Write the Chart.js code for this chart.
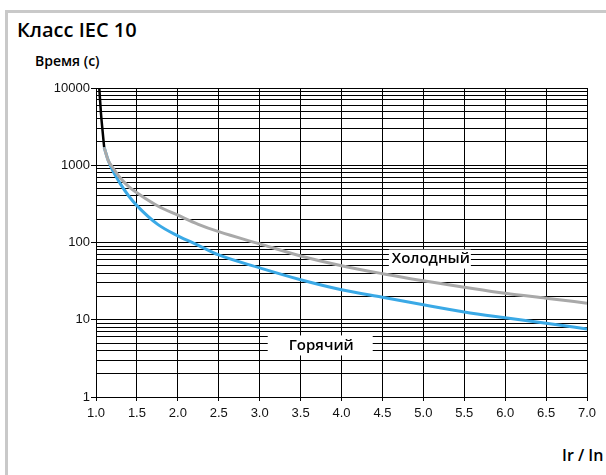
<!DOCTYPE html>
<html>
<head>
<meta charset="utf-8">
<script src="https://cdn.jsdelivr.net/npm/chart.js@4.4.0/dist/chart.umd.min.js"></script>
<style>
  body { margin: 0; background: #fff; }
  #wrap { position: relative; width: 606px; height: 475px; overflow: hidden; }
  #frame { position: absolute; left: 5px; top: 10px; width: 640px; height: 500px;
           border-top: 3px solid #c9c9c9; border-left: 3px solid #c9c9c9; }
  .txt { position: absolute; font-family: 'Open Sans', sans-serif; font-weight: 600; color: #000; white-space: nowrap; }
  #title { left: 17px; top: 16px; font-size: 20px; }
  #ytitle { left: 35px; top: 51px; font-size: 14px; }
  #xtitle { left: 562px; top: 444px; font-size: 16px; }
  canvas { position: absolute; left: 0; top: 0; }
</style>
</head>
<body>
<div id="wrap">
  <div id="frame"></div>
  <div class="txt" id="title">Класс IEC 10</div>
  <div class="txt" id="ytitle">Время (с)</div>
  <div class="txt" id="xtitle">Ir / In</div>
  <canvas id="chart" width="606" height="475"></canvas>
</div>
<script>
// steep start, common to both curves
var xStart = [1.04, 1.06, 1.08, 1.1];
var tStart = [10000, 4800, 2800, 1700];

// cold curve (gray)
var xCold = [1.1, 1.15, 1.2, 1.3, 1.4, 1.5, 1.75, 2.0, 2.25, 2.5, 3.0, 3.5, 4.0, 4.5, 5.0, 5.5, 6.0, 6.5, 7.0];
var tCold = [1700, 1150, 950, 680, 530, 440, 299, 226, 172, 138, 96, 67, 50, 39.5, 32, 26.4, 22, 19, 16.4];

// hot curve (blue)
var xHot = [1.1, 1.15, 1.2, 1.3, 1.4, 1.5, 1.75, 2.0, 2.25, 2.5, 3.0, 3.5, 4.0, 4.5, 5.0, 5.5, 6.0, 6.5, 7.0];
var tHot = [1700, 1150, 870, 570, 400, 300, 173, 122, 92, 69, 47, 33, 24.5, 19.5, 15.6, 12.6, 10.6, 9.0, 7.6];

// axis ticks
var xTicks = [1.0, 1.5, 2.0, 2.5, 3.0, 3.5, 4.0, 4.5, 5.0, 5.5, 6.0, 6.5, 7.0];
var yTickLabels = [1, 10, 100, 1000, 10000];

// curve names, placed in data coordinates
var curveNames = ['Холодный', 'Горячий'];
var nameX = [5.08, 3.74];
var nameY = [61, 4.65];

function pts(xs, ys) {
  var out = [];
  for (var i = 0; i < xs.length; i++) out.push({x: xs[i], y: ys[i]});
  return out;
}

// all log grid lines 1..9 per decade
var yGrid = [];
for (var d = 0; d < yTickLabels.length - 1; d++) {
  for (var k = 1; k < 10; k++) yGrid.push(yTickLabels[d] * k);
}
yGrid.push(yTickLabels[yTickLabels.length - 1]);

var nameBoxes = [{w: 82, h: 19}, {w: 105, h: 20}];

var namePlugin = {
  id: 'curveNames',
  afterDatasetsDraw: function(chart) {
    var ctx = chart.ctx;
    var xs = chart.scales.x, ys = chart.scales.y;
    ctx.save();
    ctx.font = '600 15px "Open Sans"';
    ctx.textAlign = 'center';
    ctx.textBaseline = 'middle';
    for (var i = 0; i < curveNames.length; i++) {
      var px = xs.getPixelForValue(nameX[i]);
      var py = ys.getPixelForValue(nameY[i]);
      ctx.fillStyle = '#fff';
      ctx.fillRect(px - nameBoxes[i].w / 2, py - nameBoxes[i].h / 2, nameBoxes[i].w, nameBoxes[i].h);
      ctx.fillStyle = '#000';
      ctx.fillText(curveNames[i], px + 1, py);
    }
    ctx.restore();
  }
};

var ctx = document.getElementById('chart').getContext('2d');
var chart = new Chart(ctx, {
  type: 'line',
  data: {
    datasets: [{
      data: pts(xCold, tCold),
      borderColor: '#a9a9a9',
      borderWidth: 3,
      pointRadius: 0,
      cubicInterpolationMode: 'monotone'
    },
    {
      data: pts(xHot, tHot),
      borderColor: '#3aa9e6',
      borderWidth: 3,
      pointRadius: 0,
      cubicInterpolationMode: 'monotone'
    },
    {
      data: pts(xStart, tStart),
      borderColor: '#000',
      borderWidth: 2.5,
      pointRadius: 0,
      cubicInterpolationMode: 'monotone'
    }]
  },
  options: {
    responsive: false,
    animation: false,
    events: [],
    layout: {
      padding: { left: 0, top: 88, right: 19, bottom: 48 }
    },
    plugins: {
      legend: { display: false },
      tooltip: { enabled: false }
    },
    scales: {
      x: {
        type: 'linear',
        min: 1,
        max: 7,
        afterBuildTicks: function(axis) {
          axis.ticks = xTicks.map(function(v) { return {value: v}; });
        },
        afterFit: function(axis) { axis.height = 30; },
        ticks: {
          callback: function(v) { return Number(v).toFixed(1); },
          font: { family: 'Liberation Sans', size: 13 },
          color: '#111',
          padding: 5,
          maxRotation: 0
        },
        grid: { color: '#000', lineWidth: 1, tickLength: 4, tickColor: '#000' },
        border: { color: '#000', width: 1 }
      },
      y: {
        type: 'logarithmic',
        min: 1,
        max: 10000,
        afterBuildTicks: function(axis) {
          axis.ticks = yGrid.map(function(v) { return {value: v}; });
        },
        afterFit: function(axis) { axis.width = 96; },
        ticks: {
          autoSkip: false,
          callback: function(v) { return yTickLabels.indexOf(v) >= 0 ? String(v) : ''; },
          font: { family: 'Liberation Sans', size: 13 },
          color: '#111',
          padding: 1
        },
        grid: {
          color: '#000',
          lineWidth: 1,
          tickLength: 5,
          tickColor: function(c) {
            return c.tick && yTickLabels.indexOf(c.tick.value) >= 0 ? '#000' : 'rgba(0,0,0,0)';
          }
        },
        border: { color: '#000', width: 1 }
      }
    }
  },
  plugins: [namePlugin]
});
</script>
</body>
</html>
